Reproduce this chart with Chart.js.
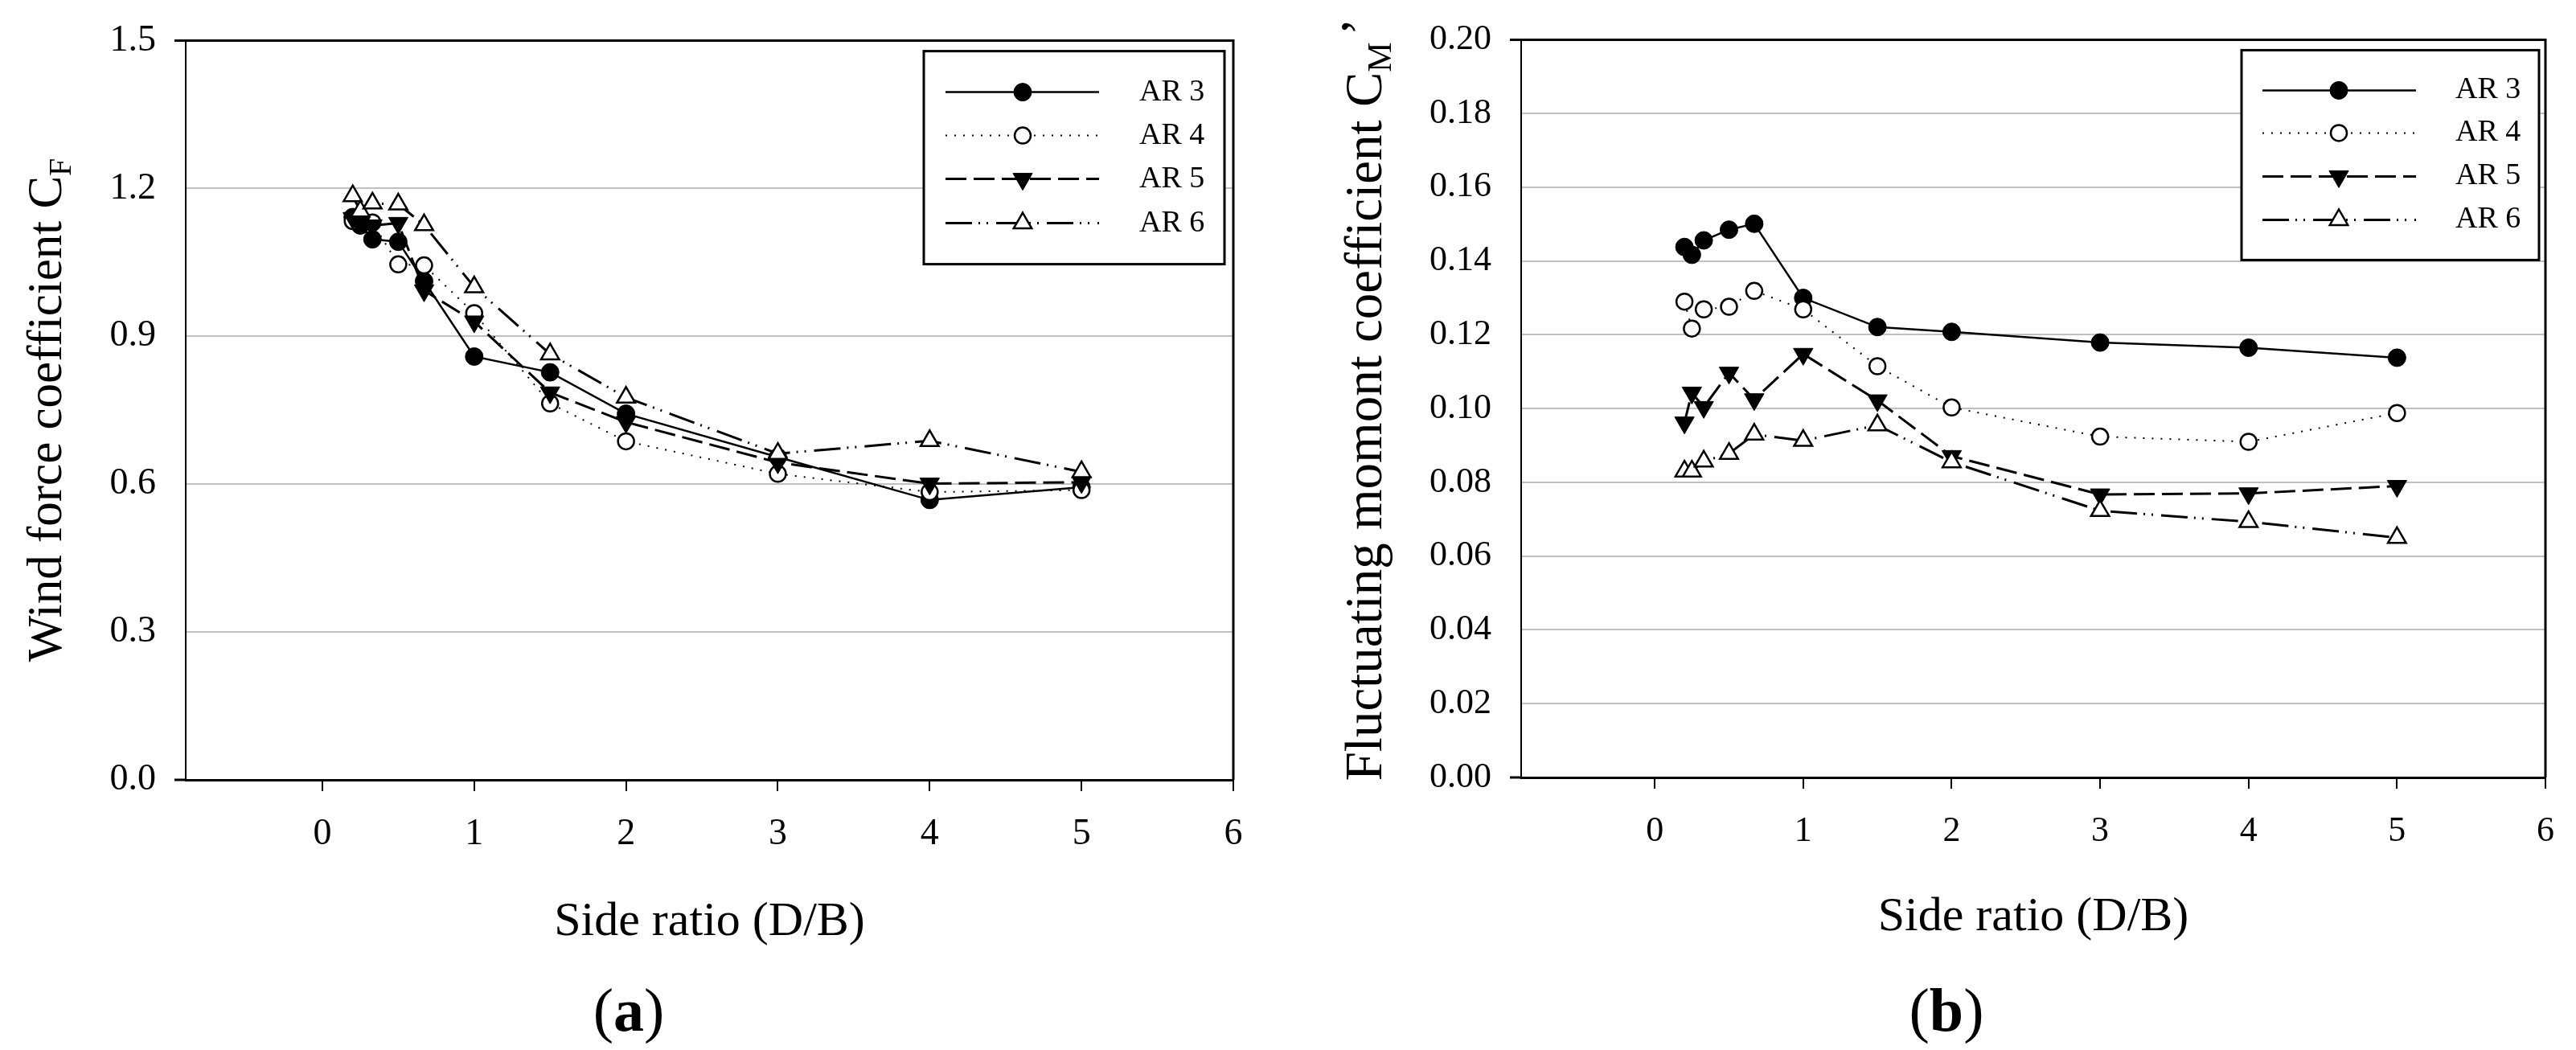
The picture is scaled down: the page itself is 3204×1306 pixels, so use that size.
<!DOCTYPE html>
<html><head><meta charset="utf-8">
<script src="https://cdn.jsdelivr.net/npm/chart.js@4/dist/chart.umd.min.js"></script>
<style>
html,body{margin:0;padding:0;background:#fff;width:3204px;height:1306px;overflow:hidden}
#ca{position:absolute;left:0;top:0}
#cb{position:absolute;left:1600px;top:0}
.cap{position:absolute;top:1256px;transform:translate(-50%,-50%);font-family:'Liberation Serif';font-size:76px;line-height:1;color:#000;white-space:nowrap}
</style></head><body>
<canvas id="ca" width="1600" height="1306"></canvas>
<canvas id="cb" width="1604" height="1306"></canvas>
<div class="cap" style="left:782px">(<b>a</b>)</div>
<div class="cap" style="left:2421px">(<b>b</b>)</div>
<script>
// ---- data ----
const sideRatio = [0.2, 0.25, 0.33, 0.5, 0.67, 1, 1.5, 2, 3, 4, 5];
const seriesNames = ['AR 3', 'AR 4', 'AR 5', 'AR 6'];
const xTickValues = [0, 1, 2, 3, 4, 5, 6];

// (a) wind force coefficient CF
const cfAR3 = [1.142, 1.125, 1.097, 1.092, 1.012, 0.859, 0.827, 0.743, 0.655, 0.568, 0.594];
const cfAR4 = [1.134, 1.135, 1.131, 1.046, 1.044, 0.947, 0.764, 0.687, 0.621, 0.584, 0.588];
const cfAR5 = [1.140, 1.130, 1.125, 1.130, 0.993, 0.930, 0.786, 0.726, 0.644, 0.601, 0.604];
const cfAR6 = [1.185, 1.154, 1.170, 1.168, 1.126, 1.000, 0.864, 0.776, 0.662, 0.688, 0.625];
const cfTickValues = [0, 0.3, 0.6, 0.9, 1.2, 1.5];

// (b) fluctuating moment coefficient CM'
const cmAR3 = [0.1438, 0.1417, 0.1456, 0.1485, 0.1501, 0.1300, 0.1221, 0.1208, 0.1179, 0.1165, 0.1138];
const cmAR4 = [0.1290, 0.1217, 0.1269, 0.1276, 0.1319, 0.1269, 0.1115, 0.1003, 0.0924, 0.0910, 0.0988];
const cmAR5 = [0.0962, 0.1043, 0.1004, 0.1097, 0.1025, 0.1148, 0.1022, 0.0871, 0.0767, 0.0770, 0.0790];
const cmAR6 = [0.0830, 0.0830, 0.0857, 0.0878, 0.0930, 0.0913, 0.0955, 0.0855, 0.0723, 0.0693, 0.0650];
const cmTickValues = [0, 0.02, 0.04, 0.06, 0.08, 0.10, 0.12, 0.14, 0.16, 0.18, 0.20];

// ---- styles ----
const seriesStyles = [
  {ps:'circle',   r:11, bg:'#000', bw:1,   dash:[],                  lw:2.5, rot:0},
  {ps:'circle',   r:10, bg:'#fff', bw:2.5, dash:[2,9],               lw:2,   rot:0},
  {ps:'triangle', r:14, bg:'#000', bw:1,   dash:[26,9],              lw:3,   rot:180},
  {ps:'triangle', r:13, bg:'#fff', bw:2.5, dash:[33,8,2,8,2,10],     lw:3,   rot:0}
];

Chart.defaults.font.family = "'Liberation Serif', serif";
Chart.defaults.color = '#000';

const framePlugin = {
  id: 'frame',
  afterDatasetsDraw(chart, args, o) {
    const ctx = chart.ctx, a = chart.chartArea;
    ctx.save();
    ctx.setLineDash([]);
    ctx.strokeStyle = '#000';
    ctx.lineWidth = 3;
    ctx.beginPath();
    ctx.moveTo(a.left - 14, a.top); ctx.lineTo(a.right, a.top); ctx.lineTo(a.right, a.bottom);
    ctx.stroke();
    ctx.beginPath();
    ctx.moveTo(a.left - 14, a.bottom); ctx.lineTo(a.left, a.bottom);
    ctx.stroke();

    // legend
    const L = o.legend;
    const bx = a.right - L.boxL, by = a.top + L.boxT, bw = L.boxL - L.boxR, bh = L.boxB - L.boxT;
    ctx.fillStyle = '#fff';
    ctx.fillRect(bx, by, bw, bh);
    ctx.lineWidth = 3;
    ctx.strokeRect(bx, by, bw, bh);
    chart.data.datasets.forEach((ds, i) => {
      const st = seriesStyles[i];
      const y = a.top + L.rows[i];
      ctx.save();
      ctx.lineWidth = st.lw;
      ctx.setLineDash(st.dash);
      ctx.strokeStyle = '#000';
      ctx.beginPath();
      ctx.moveTo(a.right - L.x1, y); ctx.lineTo(a.right - L.x2, y);
      ctx.stroke();
      ctx.setLineDash([]);
      ctx.fillStyle = st.bg;
      ctx.strokeStyle = '#000';
      ctx.lineWidth = st.bw;
      Chart.helpers.drawPoint(ctx, {pointStyle: st.ps, rotation: st.rot, radius: st.r, borderWidth: st.bw}, a.right - L.xm, y);
      ctx.restore();
      ctx.fillStyle = '#000';
      ctx.font = L.font + "px 'Liberation Serif'";
      ctx.textBaseline = 'middle';
      ctx.textAlign = 'left';
      ctx.fillText(ds.label, a.right - L.xt, y);
    });

    // rotated y-axis title with subscript
    const T = o.ytitle;
    ctx.translate(T.x, T.y);
    ctx.rotate(-Math.PI / 2);
    ctx.fillStyle = '#000';
    ctx.textBaseline = 'alphabetic';
    ctx.textAlign = 'left';
    let total = 0;
    T.parts.forEach(p => { ctx.font = p.size + "px 'Liberation Serif'"; p.w = ctx.measureText(p.t).width; total += p.w + (p.gap || 0); });
    let x = -total / 2;
    T.parts.forEach(p => { ctx.font = p.size + "px 'Liberation Serif'"; x += (p.gap || 0); ctx.fillText(p.t, x, p.dy); x += p.w; });
    ctx.restore();
  }
};

function buildChart(id, vals, yMax, yTicks, dec, g) {
  const datasets = vals.map((v, i) => {
    const st = seriesStyles[i];
    return {
      label: seriesNames[i],
      data: sideRatio.map((x, j) => ({x: x, y: v[j]})),
      borderColor: '#000', borderWidth: st.lw, borderDash: st.dash,
      pointStyle: st.ps, pointRadius: st.r, pointHoverRadius: st.r, pointRotation: st.rot,
      pointBackgroundColor: st.bg, pointBorderColor: '#000', pointBorderWidth: st.bw,
      tension: 0, fill: false, order: 3 - i
    };
  });
  return new Chart(document.getElementById(id), {
    type: 'line',
    data: {datasets},
    options: {
      responsive: false, animation: false, events: [],
      layout: {padding: {left: 0, right: g.padR, top: g.padT, bottom: 0}},
      plugins: {
        legend: {display: false}, tooltip: {enabled: false},
        frame: {legend: g.legend, ytitle: g.ytitle}
      },
      scales: {
        x: {
          type: 'linear', min: -0.9, max: 6,
          afterBuildTicks: s => { s.ticks = xTickValues.map(v => ({value: v})); },
          afterFit: s => { s.height = g.xH; },
          grid: {drawOnChartArea: false, drawTicks: true, tickLength: 14, tickColor: '#000', tickWidth: 2, color: '#000', lineWidth: 2},
          border: {display: true, color: '#000', width: 3},
          ticks: {font: {size: g.xFont}, color: '#000', padding: g.xPad, maxRotation: 0, autoSkip: false, callback: v => String(v)},
          title: {display: true, text: 'Side ratio (D/B)', font: {size: 60}, color: '#000', padding: {top: 0, bottom: g.tPad}}
        },
        y: {
          type: 'linear', min: 0, max: yMax,
          afterBuildTicks: s => { s.ticks = yTicks.map(v => ({value: v})); },
          afterFit: s => { s.width = g.yW; },
          grid: {color: '#c0c0c0', lineWidth: 2, drawTicks: true, tickLength: 14, tickColor: 'rgba(0,0,0,0)'},
          border: {display: true, color: '#000', width: 2},
          ticks: {font: {size: g.yFont}, color: '#000', padding: 23, autoSkip: false, callback: v => Number(v).toFixed(dec)}
        }
      }
    },
    plugins: [framePlugin]
  });
}

buildChart('ca', [cfAR3, cfAR4, cfAR5, cfAR6], 1.5, cfTickValues, 1, {
  padR: 66, padT: 31, xH: 336, yW: 231, xFont: 46, yFont: 46, xPad: 26, tPad: 123,
  legend: {boxL: 385, boxR: 11, boxT: 13, boxB: 278, x1: 358, x2: 167, xm: 262, xt: 117, rows: [64, 118, 172, 227], font: 38},
  ytitle: {x: 76, y: 510, parts: [
    {t: 'Wind force coefficient C', size: 61, dy: 0},
    {t: 'F', size: 40, dy: 12}
  ]}
});

buildChart('cb', [cmAR3, cmAR4, cmAR5, cmAR6], 0.2, cmTickValues, 2, {
  padR: 26, padT: 40, xH: 339, yW: 292, xFont: 44, yFont: 44, xPad: 27, tPad: 129,
  legend: {boxL: 378, boxR: 8, boxT: 13, boxB: 274, x1: 352, x2: 161, xm: 257, xt: 112, rows: [63, 116, 170, 224], font: 38},
  ytitle: {x: 118, y: 497, parts: [
    {t: 'Fluctuating momont coefficient C', size: 65, dy: 0},
    {t: 'M', size: 42, dy: 12},
    {t: '\u2019', size: 65, dy: -6, gap: 8}
  ]}
});
</script>
</body></html>
